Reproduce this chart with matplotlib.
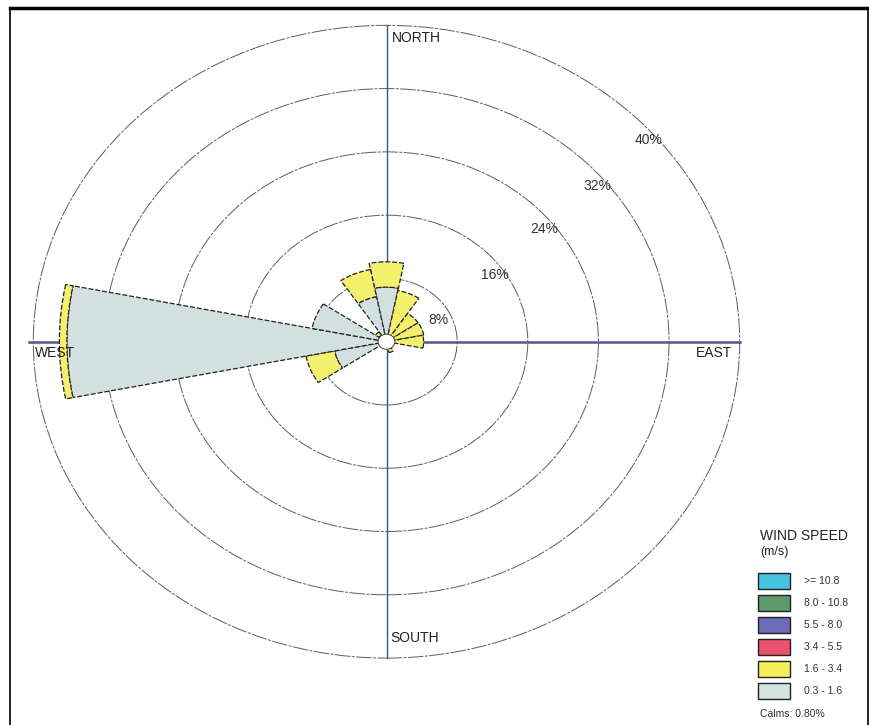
import numpy as np
import matplotlib.pyplot as plt
from matplotlib.patches import Wedge, Circle, Rectangle

plt.rcParams['font.family'] = ['Liberation Sans', 'DejaVu Sans']

# 16 compass sectors, clockwise from north
directions = ['N', 'NNE', 'NE', 'ENE', 'E', 'ESE', 'SE', 'SSE',
              'S', 'SSW', 'SW', 'WSW', 'W', 'WNW', 'NW', 'NNW']
dir_deg = np.arange(16) * 22.5
# frequency (%) per speed class
spd_03_16 = [6.9, 0.8, 0.6, 0.6, 0.6, 0, 0, 0.9, 0, 0, 0, 6.0, 36.2, 8.6, 1.0, 5.8]
spd_16_34 = [3.2, 5.8, 3.7, 3.7, 3.6, 0, 0, 0.5, 0, 0, 0, 3.3, 0.85, 0, 0.5, 3.5]

rings = [8, 16, 24, 32, 40]
ring_labels = ['8%', '16%', '24%', '32%', '40%']

legend_labels = ['>= 10.8', '8.0 - 10.8', '5.5 - 8.0', '3.4 - 5.5', '1.6 - 3.4', '0.3 - 1.6']
legend_colors = ['#45c3df', '#5e9b6c', '#6b6bb8', '#e8526c', '#f5ee5a', '#d5e3e3']
calms = 0.80

gray = '#d2e0df'
yellow = '#f5ef6e'

fig = plt.figure(figsize=(8.7, 7.25), dpi=100)
ax = fig.add_axes([10 / 870, 0, 858 / 870, 717 / 725])
ax.set_xlim(-42.64, 54.53)
ax.set_ylim(-48.46, 42.19)
ax.set_xticks([])
ax.set_yticks([])
ax.spines['bottom'].set_visible(False)
ax.spines['top'].set_linewidth(2.5)
ax.spines['left'].set_linewidth(1.2)
ax.spines['right'].set_linewidth(1.2)

# rings
for r in rings:
    ax.add_patch(Circle((0, 0), r, fill=False, ec='#5a5a66', lw=0.7,
                        ls=(0, (16, 1.5, 3, 1.5)), zorder=1))

# compass lines
ax.plot([0, 0], [-40, 40], color='#3d4f99', lw=1.0, zorder=1.5)
ax.plot([-40.5, 40], [0, 0], color='#56568a', lw=1.8, zorder=1.5)

# sectors
for d, g, y in zip(dir_deg, spd_03_16, spd_16_34):
    mid = 90 - d
    t1, t2 = mid - 11.25, mid + 11.25
    if g > 0:
        ax.add_patch(Wedge((0, 0), g, t1, t2, fc=gray, ec='#222222', lw=0.9,
                           ls=(0, (4, 1.5)), zorder=3))
    if y > 0:
        ax.add_patch(Wedge((0, 0), g + y, t1, t2, width=y, fc=yellow, ec='#222222',
                           lw=0.9, ls=(0, (4, 1.5)), zorder=3))

ax.add_patch(Circle((0, 0), 0.95, fc='white', ec='#444444', lw=0.7, zorder=4))

# ring labels
lab_x = [5.9, 12.3, 17.9, 23.9, 29.7]
lab_y = [2.8, 8.4, 14.2, 19.7, 25.5]
for x, y, t in zip(lab_x, lab_y, ring_labels):
    ax.text(x, y, t, ha='center', va='center', fontsize=10, color='#333333', zorder=5)

ax.text(0.6, 38.4, 'NORTH', ha='left', va='center', fontsize=10, color='#222222')
ax.text(-39.8, -1.4, 'WEST', ha='left', va='center', fontsize=10, color='#222222')
ax.text(39.1, -1.4, 'EAST', ha='right', va='center', fontsize=10, color='#222222')
ax.text(0.4, -37.5, 'SOUTH', ha='left', va='center', fontsize=10, color='#222222')

# legend (figure pixel positions)
def fx(px):
    return px / 870


def fy(py):
    return 1 - py / 725


fig.text(fx(760), fy(536), 'WIND SPEED', ha='left', va='center', fontsize=10, color='#222222')
fig.text(fx(760), fy(552), '(m/s)', ha='left', va='center', fontsize=9, color='#222222')
for i, (lab, col) in enumerate(zip(legend_labels, legend_colors)):
    yc = 581 + 22 * i
    fig.patches.append(Rectangle((fx(758), fy(yc + 8)), 32 / 870, 16 / 725, fc=col,
                                 ec='#222222', lw=1.0, transform=fig.transFigure))
    fig.text(fx(804), fy(yc), lab, ha='left', va='center', fontsize=7.5, color='#333333')
fig.text(fx(760), fy(714), 'Calms: %.2f%%' % calms, ha='left', va='center',
         fontsize=7.5, color='#333333')

fig.savefig('out.png', dpi=100)
